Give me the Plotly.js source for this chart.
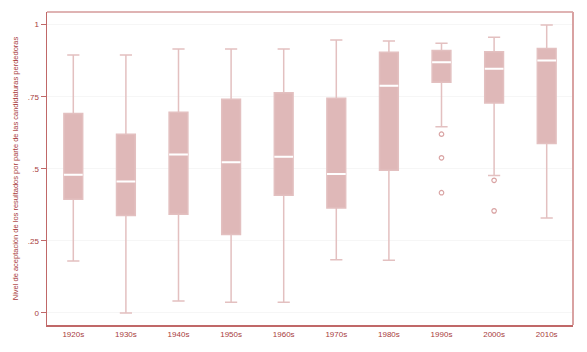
<!DOCTYPE html>
<html>
<head>
<meta charset="utf-8">
<script src="https://cdn.plot.ly/plotly-3.0.1.min.js"></script>
<style>html,body{margin:0;padding:0;background:#fff;}#chart{width:587px;height:352px;}</style>
</head>
<body>
<div id="chart"></div>
<script>
const decades = ['1920s','1930s','1940s','1950s','1960s','1970s','1980s','1990s','2000s','2010s'];
const lowerWhisker = [0.180, 0.000, 0.041, 0.037, 0.037, 0.184, 0.183, 0.646, 0.477, 0.329];
const q1Values     = [0.394, 0.338, 0.342, 0.272, 0.408, 0.364, 0.495, 0.800, 0.728, 0.588];
const medianValues = [0.479, 0.456, 0.550, 0.523, 0.542, 0.482, 0.788, 0.870, 0.847, 0.876];
const q3Values     = [0.692, 0.620, 0.696, 0.741, 0.764, 0.745, 0.904, 0.910, 0.906, 0.917];
const upperWhisker = [0.895, 0.895, 0.916, 0.916, 0.916, 0.947, 0.943, 0.936, 0.956, 0.999];
const outlierDecades = ['1990s','1990s','1990s','2000s','2000s'];
const outlierValues  = [0.620, 0.538, 0.417, 0.460, 0.354];
const yTickVals = [0, 0.25, 0.5, 0.75, 1];
const yTickText = ['0', '.25', '.5', '.75', '1'];
const yTitle = 'Nivel de aceptación de los resultados por parte de las candidaturas perdedoras';

const frameColor = '#c06868';
const textColor = '#a83c3c';

const traces = [
  {
    type: 'box',
    x: decades,
    q1: q1Values,
    median: medianValues,
    q3: q3Values,
    lowerfence: lowerWhisker,
    upperfence: upperWhisker,
    boxpoints: false,
    line: {color: '#e3c0c0', width: 1.5},
    fillcolor: '#dfb8b8',
    whiskerwidth: 0.65,
    hoverinfo: 'skip',
    showlegend: false
  },
  {
    type: 'box',
    x: decades,
    q1: medianValues,
    median: medianValues,
    q3: medianValues,
    lowerfence: medianValues,
    upperfence: medianValues,
    boxpoints: false,
    line: {color: '#ffffff', width: 2},
    fillcolor: 'rgba(0,0,0,0)',
    whiskerwidth: 0,
    hoverinfo: 'skip',
    showlegend: false
  },
  {
    type: 'scatter',
    mode: 'markers',
    x: outlierDecades,
    y: outlierValues,
    marker: {symbol: 'circle-open', size: 4.5, color: '#d9a3a3', line: {width: 1.2, color: '#d9a3a3'}},
    hoverinfo: 'skip',
    showlegend: false
  }
];

const layout = {
  width: 587,
  height: 352,
  margin: {l: 47, r: 14, t: 12, b: 27, pad: 0},
  paper_bgcolor: '#ffffff',
  plot_bgcolor: '#ffffff',
  boxmode: 'overlay',
  boxgap: 0.49,
  showlegend: false,
  font: {family: 'Liberation Sans, Arial, sans-serif', color: textColor, size: 8},
  xaxis: {
    type: 'category',
    categoryorder: 'array',
    categoryarray: decades,
    range: [-0.5, 9.5],
    showgrid: false,
    zeroline: false,
    showline: true,
    linecolor: frameColor,
    linewidth: 2,
    mirror: false,
    ticks: '',
    tickfont: {size: 8, color: textColor}
  },
  yaxis: {
    range: [-0.042, 1.044],
    tickvals: yTickVals,
    ticktext: yTickText,
    ticks: 'outside',
    ticklen: 5,
    tickwidth: 1,
    tickcolor: frameColor,
    showgrid: true,
    gridcolor: '#f6f6f6',
    gridwidth: 1,
    zeroline: false,
    showline: true,
    linecolor: frameColor,
    linewidth: 1.5,
    mirror: false,
    tickfont: {size: 8, color: textColor},
    title: {text: yTitle, font: {size: 7.5, color: textColor}, standoff: 8}
  },
  shapes: [
    {type: 'line', xref: 'paper', yref: 'paper', x0: 0, x1: 1, y0: 1, y1: 1, line: {color: frameColor, width: 1.2}},
    {type: 'line', xref: 'paper', yref: 'paper', x0: 1, x1: 1, y0: 0, y1: 1, line: {color: '#d9a2a2', width: 2}}
  ]
};

Plotly.newPlot('chart', traces, layout, {displayModeBar: false, staticPlot: true});
</script>
</body>
</html>
